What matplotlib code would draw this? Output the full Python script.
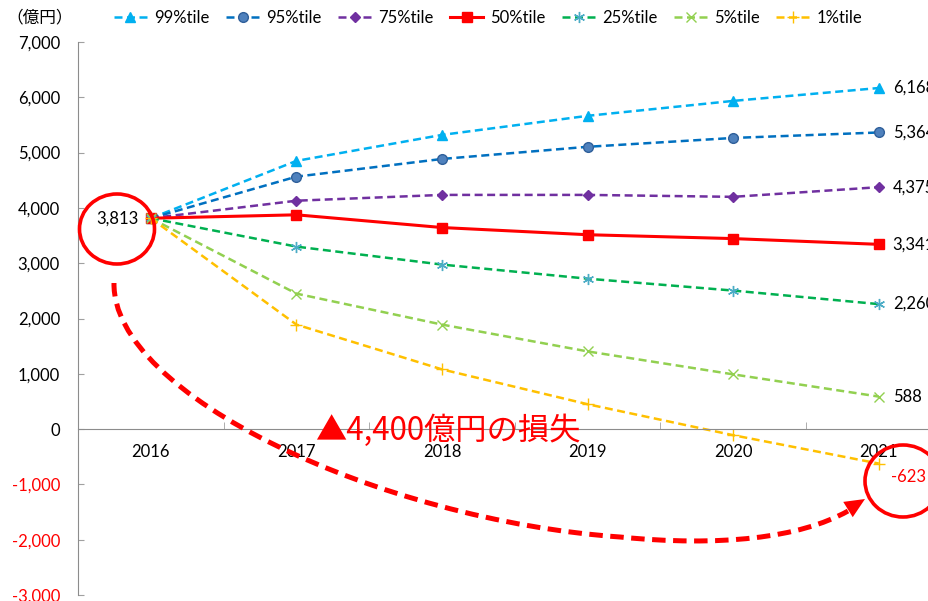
import matplotlib.pyplot as plt
import numpy as np
from matplotlib.patches import Ellipse, PathPatch, Polygon
from matplotlib.path import Path

plt.rcParams['font.family'] = ['Lato', 'Noto Sans CJK JP', 'DejaVu Sans']

years = ['2016', '2017', '2018', '2019', '2020', '2021']
p99 = [3813, 4850, 5320, 5665, 5935, 6168]
p95 = [3813, 4565, 4885, 5105, 5265, 5364]
p75 = [3813, 4130, 4235, 4235, 4200, 4375]
p50 = [3813, 3875, 3645, 3515, 3445, 3341]
p25 = [3813, 3300, 2975, 2720, 2505, 2260]
p05 = [3813, 2450, 1890, 1405, 990, 588]
p01 = [3813, 1890, 1080, 450, -110, -623]

series = [
    ('99%tile', p99, '#00B0F0', '^', '#00B0F0', '--'),
    ('95%tile', p95, '#0070C0', 'o', '#4F81BD', '--'),
    ('75%tile', p75, '#7030A0', 'D', '#7030A0', '--'),
    ('50%tile', p50, '#FF0000', 's', '#FF0000', '-'),
    ('25%tile', p25, '#00B050', (6, 2, 0), '#4BACC6', '--'),
    ('5%tile', p05, '#92D050', 'x', '#92D050', '--'),
    ('1%tile', p01, '#FFC000', '+', '#FFC000', '--'),
]

W, H = 929, 601
fig = plt.figure(figsize=(W / 100, H / 100), dpi=100)
ax = fig.add_axes([78 / W, 6 / H, 873.6 / W, 553 / H])


def px(x, y):
    # pixel position (from top-left) -> figure fraction
    return (x / W, 1 - y / H)


x = np.arange(len(years))
handles = []
for name, vals, col, mk, mcol, ls in series:
    ms = {'^': 7, 'o': 7, 'D': 5, 's': 7, 'x': 7, '+': 8}.get(mk, 8)
    kw = dict(color=col, marker=mk, markersize=ms, markerfacecolor=mcol,
              markeredgecolor=mcol if mk != 'o' else '#2F5F9A',
              markeredgewidth=1.0, label=name, clip_on=False)
    if ls == '-':
        h, = ax.plot(x, vals, linestyle='-', linewidth=2.2, **kw)
    else:
        h, = ax.plot(x, vals, linestyle='--', linewidth=1.8,
                     dashes=(3.2, 1.8), **kw)
    handles.append(h)

# value labels at the last year
for name, vals, col, mk, mcol, ls in series:
    v = vals[-1]
    if v < 0:
        ax.annotate(f'{v:,}', (x[-1], v), xytext=(9, -10),
                    textcoords='offset points', ha='left', va='center',
                    fontsize=12, color='#FF0000', annotation_clip=False)
    else:
        ax.annotate(f'{v:,}', (x[-1], v), xytext=(10, 0),
                    textcoords='offset points', ha='left', va='center',
                    fontsize=12, color='black', annotation_clip=False)
ax.annotate(f'{p50[0]:,}', (x[0], p50[0]), xytext=(-9, 0),
            textcoords='offset points', ha='right', va='center',
            fontsize=12, color='black')

ax.set_xlim(-0.5, 5.5)
ax.set_ylim(-3000, 7000)
ax.set_yticks(np.arange(-3000, 7001, 1000))
ax.set_yticklabels([f'{v:,}' for v in range(-3000, 7001, 1000)])
for lbl, v in zip(ax.get_yticklabels(), range(-3000, 7001, 1000)):
    lbl.set_color('#FF0000' if v < 0 else 'black')
ax.tick_params(axis='y', direction='in', length=4, color='#A0A0A0',
               labelsize=12, pad=13)

ax.set_xticks(x)
ax.set_xticklabels(years)
ax.set_xticks(np.arange(-0.5, 5.6, 1), minor=True)
ax.tick_params(axis='x', which='major', length=0, labelsize=12, pad=11)
ax.tick_params(axis='x', which='minor', direction='in', length=5,
               color='#A0A0A0')

for s in ['top', 'right']:
    ax.spines[s].set_visible(False)
ax.spines['bottom'].set_position(('data', 0))
ax.spines['bottom'].set_color('#8C8C8C')
ax.spines['left'].set_color('#8C8C8C')
ax.patch.set_alpha(0)

fig.legend(handles=handles, loc='center', bbox_to_anchor=(px(488, 18)),
           ncol=7, frameon=False, fontsize=12, handlelength=2.0,
           handletextpad=0.4, columnspacing=1.0)
fig.text(*px(6, 18), '（億円）', fontsize=12, ha='left', va='center',
         family=['Noto Sans CJK JP'])

fig.text(*px(448, 431), '▲4,400億円の損失', fontsize=22.5, color='#FF0000',
         ha='center', va='center', family=['Noto Sans CJK JP'])

# highlight circles
for cx, cy, w, h in [(117, 229, 75, 70), (903, 481, 76, 72)]:
    fig.add_artist(Ellipse(px(cx, cy), w / W, h / H, transform=fig.transFigure,
                           fill=False, edgecolor='#FF0000', linewidth=2.6))

# dashed curved arrow from the start value to the loss at the end
verts = [px(114, 283), px(112, 395), px(380, 520), px(620, 537),
         px(720, 547), px(800, 538), px(848, 511)]
codes = [Path.MOVETO] + [Path.CURVE4] * 6
fig.add_artist(PathPatch(Path(verts, codes), transform=fig.transFigure,
                         fill=False, edgecolor='#FF0000', linewidth=3.6,
                         linestyle=(0, (2.7, 1.5)), capstyle='butt'))

# arrow head
tip = np.array([865.0, 499.0])
d = np.array([1.0, -0.62])
d /= np.linalg.norm(d)
n = np.array([-d[1], d[0]])
base = tip - 20 * d
head = [tip, base + 9 * n, base - 9 * n]
fig.add_artist(Polygon([px(*p) for p in head], closed=True,
                       transform=fig.transFigure, color='#FF0000', lw=0))

fig.savefig('out.png', dpi=100)
